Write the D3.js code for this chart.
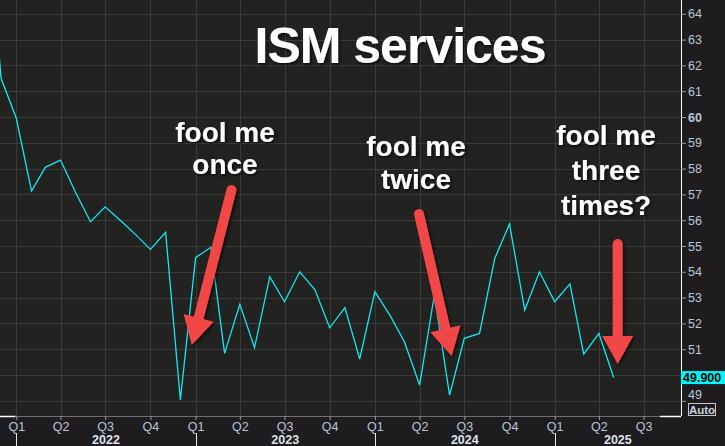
<!DOCTYPE html>
<html>
<head>
<meta charset="utf-8">
<script src="https://cdn.jsdelivr.net/npm/d3@7"></script>
<style>
  html, body { margin: 0; padding: 0; background: #1e1c1f; }
  svg { display: block; }
</style>
</head>
<body>
<svg id="chart" width="725" height="446"></svg>
<script>
// ---- data ----
const months = [
  "2021-11","2021-12",
  "2022-01","2022-02","2022-03","2022-04","2022-05","2022-06","2022-07","2022-08","2022-09","2022-10","2022-11","2022-12",
  "2023-01","2023-02","2023-03","2023-04","2023-05","2023-06","2023-07","2023-08","2023-09","2023-10","2023-11","2023-12",
  "2024-01","2024-02","2024-03","2024-04","2024-05","2024-06","2024-07","2024-08","2024-09","2024-10","2024-11","2024-12",
  "2025-01","2025-02","2025-03","2025-04","2025-05"
];
const ismServices = [
  68.4, 61.5,
  59.95, 57.13, 58.05, 58.33, 57.1, 55.94, 56.52, 55.99, 55.44, 54.87, 55.53, 49.03,
  54.55, 54.95, 50.84, 52.74, 51.06, 53.81, 52.84, 54.0, 53.3, 51.83, 52.61, 50.62,
  53.23, 52.3, 51.29, 49.61, 53.1, 49.22, 51.42, 51.61, 54.52, 55.85, 52.52, 54.0,
  52.84, 53.53, 50.81, 51.61, 49.9
];
const yTicks = [49,50,51,52,53,54,55,56,57,58,59,60,61,62,63,64];
const hiddenYLabel = 50; // covered by the last-value box
const quarterTicks = [
  "2022-01","2022-04","2022-07","2022-10",
  "2023-01","2023-04","2023-07","2023-10",
  "2024-01","2024-04","2024-07","2024-10",
  "2025-01","2025-04","2025-07"
];
const years = [2022, 2023, 2024, 2025];
const lastValueLabel = "49.900";
const titleText = "ISM services";
const notes = [
  { lines: ["fool me", "once"] },
  { lines: ["fool me", "twice"] },
  { lines: ["fool me", "three", "times?"] }
];

// ---- layout ----
const W = 725, H = 446;
const plotRight = 681, plotBottom = 416;
const parse = d3.timeParse("%Y-%m");
const svg = d3.select("#chart");

const x = d3.scaleTime()
  .domain([new Date(2022,0,1), new Date(2025,0,1)])
  .range([16.3, 554.7]);
const y = d3.scaleLinear().domain([50, 64]).range([375, 13.8]);

const defs = svg.append("defs");
defs.append("clipPath").attr("id","plotclip")
  .append("rect").attr("x",0).attr("y",0).attr("width",plotRight).attr("height",plotBottom);
const f = defs.append("filter").attr("id","shadow").attr("x","-20%").attr("y","-20%").attr("width","140%").attr("height","140%");
f.append("feDropShadow").attr("dx",1.5).attr("dy",1.5).attr("stdDeviation",1.5)
  .attr("flood-color","#000").attr("flood-opacity",0.75);

svg.append("rect").attr("width",W).attr("height",H).attr("fill","#1e1c1f");
svg.append("rect").attr("x",0).attr("y",0).attr("width",plotRight).attr("height",plotBottom).attr("fill","#222220");

// grid
const grid = svg.append("g").attr("clip-path","url(#plotclip)");
grid.selectAll("line.h").data(yTicks).join("line")
  .attr("x1",0).attr("x2",plotRight)
  .attr("y1",d=>Math.round(y(d))+0.5).attr("y2",d=>Math.round(y(d))+0.5)
  .attr("stroke","#3a3a3a").attr("stroke-width",1);
grid.selectAll("line.v").data(quarterTicks).join("line")
  .attr("y1",0).attr("y2",plotBottom)
  .attr("x1",d=>Math.round(x(parse(d)))+0.5).attr("x2",d=>Math.round(x(parse(d)))+0.5)
  .attr("stroke","#3a3a3a").attr("stroke-width",1);

// line
const series = months.map((m,i)=>({date: parse(m), value: ismServices[i]}));
svg.append("g").attr("clip-path","url(#plotclip)")
  .append("path").datum(series)
  .attr("fill","none").attr("stroke","#14e8f2").attr("stroke-width",1.3)
  .attr("d", d3.line().x(d=>x(d.date)).y(d=>y(d.value)));

// y axis
const yAxis = svg.append("g").attr("transform",`translate(${plotRight},0)`)
  .call(d3.axisRight(y).tickValues(yTicks).tickSize(5).tickPadding(2)
    .tickFormat(d=>d===hiddenYLabel?"":d3.format("d")(d)));
yAxis.select(".domain").attr("stroke","#ffffff").attr("d",`M0.5,0V${plotBottom}`);
yAxis.selectAll(".tick line").attr("stroke","#9a9a9a");
yAxis.selectAll(".tick text")
  .attr("fill","#b9c6d6").attr("font-family","Liberation Sans, Arial, sans-serif").attr("font-size",12.5)
  .attr("font-weight",d=>d===60?"bold":"normal")
  .attr("dy",d=>d===49?"-0.15em":"0.32em");
yAxis.selectAll(".tick text").filter(d=>d===hiddenYLabel).remove();

// x axis
const xAxis = svg.append("g").attr("transform",`translate(0,${plotBottom})`)
  .call(d3.axisBottom(x).tickValues(quarterTicks.map(parse)).tickSize(4).tickPadding(2)
    .tickFormat(d=>"Q"+(Math.floor(d.getMonth()/3)+1)));
xAxis.select(".domain").attr("stroke","#6f6f6f").attr("d",`M0,0.5H${plotRight}`);
xAxis.selectAll(".tick line").attr("stroke","#9a9a9a");
xAxis.selectAll(".tick text")
  .attr("fill","#b9c6d6").attr("font-family","Liberation Sans, Arial, sans-serif").attr("font-size",12.5);

// white range markers at the ends of the x axis
svg.append("line").attr("x1",0).attr("x2",x(parse("2022-01"))-1).attr("y1",plotBottom+0.5).attr("y2",plotBottom+0.5)
  .attr("stroke","#fff").attr("stroke-width",1.5);
svg.append("line").attr("x1",660).attr("x2",plotRight).attr("y1",plotBottom+0.5).attr("y2",plotBottom+0.5)
  .attr("stroke","#fff").attr("stroke-width",1.5);

// year labels and separators
years.forEach(yr=>{
  const x0 = x(new Date(yr,0,1));
  const x1 = Math.min(x(new Date(yr+1,0,1)), plotRight);
  svg.append("line").attr("x1",Math.round(x0)+0.5).attr("x2",Math.round(x0)+0.5)
    .attr("y1",433).attr("y2",H).attr("stroke","#e8e8e8").attr("stroke-width",1);
  svg.append("text").attr("x",(x0+x1)/2).attr("y",444)
    .attr("text-anchor","middle").attr("fill","#dce3ee")
    .attr("font-family","Liberation Sans, Arial, sans-serif").attr("font-size",12.5).attr("font-weight","bold")
    .text(yr);
});

// last value box
const lastY = y(ismServices[ismServices.length-1]);
svg.append("rect").attr("x",plotRight).attr("y",lastY-6.5).attr("width",W-plotRight).attr("height",13)
  .attr("fill","#00f4f8");
svg.append("text").attr("x",plotRight+2).attr("y",lastY+4.5)
  .attr("fill","#000").attr("font-family","Liberation Sans, Arial, sans-serif")
  .attr("font-size",12.5).attr("font-weight","bold").text(lastValueLabel);

// Auto box
svg.append("rect").attr("x",688.5).attr("y",403.5).attr("width",27).attr("height",12)
  .attr("fill","none").attr("stroke","#c8c8c8").attr("stroke-width",1);
svg.append("text").attr("x",702).attr("y",413.5).attr("text-anchor","middle")
  .attr("fill","#c9d2de").attr("font-family","Liberation Sans, Arial, sans-serif")
  .attr("font-size",11.5).attr("font-weight","bold").text("Auto");

// title
svg.append("text").attr("x",400).attr("y",63).attr("text-anchor","middle")
  .attr("fill","#ffffff").attr("font-family","Liberation Sans, Arial, sans-serif")
  .attr("font-size",50).attr("font-weight","bold").attr("letter-spacing",-1)
  .attr("filter","url(#shadow)").text(titleText);

// annotations
const notePos = [
  {cx:225, base:141.5, lh:32},
  {cx:416, base:156, lh:33},
  {cx:606, base:145, lh:35}
];
notes.forEach((n,i)=>{
  const t = svg.append("text").attr("text-anchor","middle")
    .attr("fill","#ffffff").attr("font-family","Liberation Sans, Arial, sans-serif")
    .attr("font-size",28).attr("font-weight","bold").attr("filter","url(#shadow)");
  n.lines.forEach((ln,j)=>{
    t.append("tspan").attr("x",notePos[i].cx).attr("y",notePos[i].base+j*notePos[i].lh).text(ln);
  });
});

// arrows
const arrows = [
  {tail:[231.5,190], tip:[191.7,345]},
  {tail:[419,214], tip:[451.7,356]},
  {tail:[617.7,244], tip:[617.7,364]}
];
const red = "#f24646";
const ag = svg.append("g").attr("filter","url(#shadow)");
arrows.forEach(a=>{
  const dx = a.tip[0]-a.tail[0], dy = a.tip[1]-a.tail[1];
  const L = Math.hypot(dx,dy), ux = dx/L, uy = dy/L;
  const hl = 28, hw = 15.5;
  const bx = a.tip[0]-ux*hl, by = a.tip[1]-uy*hl;
  ag.append("line").attr("x1",a.tail[0]).attr("y1",a.tail[1])
    .attr("x2",bx+ux*2).attr("y2",by+uy*2)
    .attr("stroke",red).attr("stroke-width",10).attr("stroke-linecap","round");
  ag.append("path")
    .attr("d",`M${a.tip[0]},${a.tip[1]}L${bx-uy*hw},${by+ux*hw}L${bx+uy*hw},${by-ux*hw}Z`)
    .attr("fill",red);
});
</script>
</body>
</html>
